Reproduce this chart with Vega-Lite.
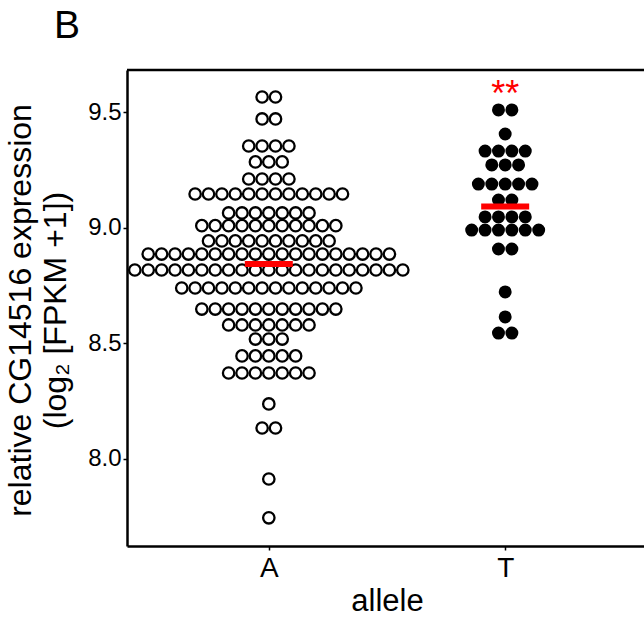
{
  "$schema": "https://vega.github.io/schema/vega-lite/v6.json",
  "width": 517,
  "height": 476,
  "autosize": {"type": "none"},
  "padding": {"left": 127, "top": 70, "right": 0, "bottom": 73},
  "config": {"font": "Liberation Sans", "view": {"stroke": null}},
  "title": {"text": "B", "anchor": "start", "frame": "group", "fontSize": 39, "fontWeight": "normal", "color": "black", "dx": -73, "offset": 23},
  "datasets": {
    "points": [
      {"allele":"A","value":9.567,"slot":-0.5},{"allele":"A","value":9.567,"slot":0.5},
      {"allele":"A","value":9.472,"slot":-0.5},{"allele":"A","value":9.472,"slot":0.5},
      {"allele":"A","value":9.355,"slot":-1.5},{"allele":"A","value":9.355,"slot":-0.5},{"allele":"A","value":9.355,"slot":0.5},{"allele":"A","value":9.355,"slot":1.5},
      {"allele":"A","value":9.286,"slot":-1},{"allele":"A","value":9.286,"slot":0},{"allele":"A","value":9.286,"slot":1},
      {"allele":"A","value":9.212,"slot":-1.5},{"allele":"A","value":9.212,"slot":-0.5},{"allele":"A","value":9.212,"slot":0.5},{"allele":"A","value":9.212,"slot":1.5},
      {"allele":"A","value":9.147,"slot":-5.5},{"allele":"A","value":9.147,"slot":-4.5},{"allele":"A","value":9.147,"slot":-3.5},{"allele":"A","value":9.147,"slot":-2.5},{"allele":"A","value":9.147,"slot":-1.5},{"allele":"A","value":9.147,"slot":-0.5},{"allele":"A","value":9.147,"slot":0.5},{"allele":"A","value":9.147,"slot":1.5},{"allele":"A","value":9.147,"slot":2.5},{"allele":"A","value":9.147,"slot":3.5},{"allele":"A","value":9.147,"slot":4.5},{"allele":"A","value":9.147,"slot":5.5},
      {"allele":"A","value":9.065,"slot":-3},{"allele":"A","value":9.065,"slot":-2},{"allele":"A","value":9.065,"slot":-1},{"allele":"A","value":9.065,"slot":0},{"allele":"A","value":9.065,"slot":1},{"allele":"A","value":9.065,"slot":2},{"allele":"A","value":9.065,"slot":3},
      {"allele":"A","value":9.01,"slot":-5},{"allele":"A","value":9.01,"slot":-4},{"allele":"A","value":9.01,"slot":-3},{"allele":"A","value":9.01,"slot":-2},{"allele":"A","value":9.01,"slot":-1},{"allele":"A","value":9.01,"slot":0},{"allele":"A","value":9.01,"slot":1},{"allele":"A","value":9.01,"slot":2},{"allele":"A","value":9.01,"slot":3},{"allele":"A","value":9.01,"slot":4},{"allele":"A","value":9.01,"slot":5},
      {"allele":"A","value":8.944,"slot":-4.5},{"allele":"A","value":8.944,"slot":-3.5},{"allele":"A","value":8.944,"slot":-2.5},{"allele":"A","value":8.944,"slot":-1.5},{"allele":"A","value":8.944,"slot":-0.5},{"allele":"A","value":8.944,"slot":0.5},{"allele":"A","value":8.944,"slot":1.5},{"allele":"A","value":8.944,"slot":2.5},{"allele":"A","value":8.944,"slot":3.5},{"allele":"A","value":8.944,"slot":4.5},
      {"allele":"A","value":8.887,"slot":-9},{"allele":"A","value":8.887,"slot":-8},{"allele":"A","value":8.887,"slot":-7},{"allele":"A","value":8.887,"slot":-6},{"allele":"A","value":8.887,"slot":-5},{"allele":"A","value":8.887,"slot":-4},{"allele":"A","value":8.887,"slot":-3},{"allele":"A","value":8.887,"slot":-2},{"allele":"A","value":8.887,"slot":-1},{"allele":"A","value":8.887,"slot":0},{"allele":"A","value":8.887,"slot":1},{"allele":"A","value":8.887,"slot":2},{"allele":"A","value":8.887,"slot":3},{"allele":"A","value":8.887,"slot":4},{"allele":"A","value":8.887,"slot":5},{"allele":"A","value":8.887,"slot":6},{"allele":"A","value":8.887,"slot":7},{"allele":"A","value":8.887,"slot":8},{"allele":"A","value":8.887,"slot":9},
      {"allele":"A","value":8.818,"slot":-10},{"allele":"A","value":8.818,"slot":-9},{"allele":"A","value":8.818,"slot":-8},{"allele":"A","value":8.818,"slot":-7},{"allele":"A","value":8.818,"slot":-6},{"allele":"A","value":8.818,"slot":-5},{"allele":"A","value":8.818,"slot":-4},{"allele":"A","value":8.818,"slot":-3},{"allele":"A","value":8.818,"slot":-2},{"allele":"A","value":8.818,"slot":-1},{"allele":"A","value":8.818,"slot":0},{"allele":"A","value":8.818,"slot":1},{"allele":"A","value":8.818,"slot":2},{"allele":"A","value":8.818,"slot":3},{"allele":"A","value":8.818,"slot":4},{"allele":"A","value":8.818,"slot":5},{"allele":"A","value":8.818,"slot":6},{"allele":"A","value":8.818,"slot":7},{"allele":"A","value":8.818,"slot":8},{"allele":"A","value":8.818,"slot":9},{"allele":"A","value":8.818,"slot":10},
      {"allele":"A","value":8.74,"slot":-6.5},{"allele":"A","value":8.74,"slot":-5.5},{"allele":"A","value":8.74,"slot":-4.5},{"allele":"A","value":8.74,"slot":-3.5},{"allele":"A","value":8.74,"slot":-2.5},{"allele":"A","value":8.74,"slot":-1.5},{"allele":"A","value":8.74,"slot":-0.5},{"allele":"A","value":8.74,"slot":0.5},{"allele":"A","value":8.74,"slot":1.5},{"allele":"A","value":8.74,"slot":2.5},{"allele":"A","value":8.74,"slot":3.5},{"allele":"A","value":8.74,"slot":4.5},{"allele":"A","value":8.74,"slot":5.5},{"allele":"A","value":8.74,"slot":6.5},
      {"allele":"A","value":8.649,"slot":-5},{"allele":"A","value":8.649,"slot":-4},{"allele":"A","value":8.649,"slot":-3},{"allele":"A","value":8.649,"slot":-2},{"allele":"A","value":8.649,"slot":-1},{"allele":"A","value":8.649,"slot":0},{"allele":"A","value":8.649,"slot":1},{"allele":"A","value":8.649,"slot":2},{"allele":"A","value":8.649,"slot":3},{"allele":"A","value":8.649,"slot":4},{"allele":"A","value":8.649,"slot":5},
      {"allele":"A","value":8.58,"slot":-3},{"allele":"A","value":8.58,"slot":-2},{"allele":"A","value":8.58,"slot":-1},{"allele":"A","value":8.58,"slot":0},{"allele":"A","value":8.58,"slot":1},{"allele":"A","value":8.58,"slot":2},{"allele":"A","value":8.58,"slot":3},
      {"allele":"A","value":8.519,"slot":-1},{"allele":"A","value":8.519,"slot":0},{"allele":"A","value":8.519,"slot":1},
      {"allele":"A","value":8.446,"slot":-2},{"allele":"A","value":8.446,"slot":-1},{"allele":"A","value":8.446,"slot":0},{"allele":"A","value":8.446,"slot":1},{"allele":"A","value":8.446,"slot":2},
      {"allele":"A","value":8.372,"slot":-3},{"allele":"A","value":8.372,"slot":-2},{"allele":"A","value":8.372,"slot":-1},{"allele":"A","value":8.372,"slot":0},{"allele":"A","value":8.372,"slot":1},{"allele":"A","value":8.372,"slot":2},{"allele":"A","value":8.372,"slot":3},
      {"allele":"A","value":8.238,"slot":0},
      {"allele":"A","value":8.134,"slot":-0.5},{"allele":"A","value":8.134,"slot":0.5},
      {"allele":"A","value":7.913,"slot":0},
      {"allele":"A","value":7.745,"slot":0},
      {"allele":"T","value":9.511,"slot":-0.5},{"allele":"T","value":9.511,"slot":0.5},
      {"allele":"T","value":9.407,"slot":0},
      {"allele":"T","value":9.333,"slot":-1.5},{"allele":"T","value":9.333,"slot":-0.5},{"allele":"T","value":9.333,"slot":0.5},{"allele":"T","value":9.333,"slot":1.5},
      {"allele":"T","value":9.273,"slot":-1},{"allele":"T","value":9.273,"slot":0},{"allele":"T","value":9.273,"slot":1},
      {"allele":"T","value":9.19,"slot":-2},{"allele":"T","value":9.19,"slot":-1},{"allele":"T","value":9.19,"slot":0},{"allele":"T","value":9.19,"slot":1},{"allele":"T","value":9.19,"slot":2},
      {"allele":"T","value":9.121,"slot":-0.5},{"allele":"T","value":9.121,"slot":0.5},
      {"allele":"T","value":9.048,"slot":-1.5},{"allele":"T","value":9.048,"slot":-0.5},{"allele":"T","value":9.048,"slot":0.5},{"allele":"T","value":9.048,"slot":1.5},
      {"allele":"T","value":8.991,"slot":-2.5},{"allele":"T","value":8.991,"slot":-1.5},{"allele":"T","value":8.991,"slot":-0.5},{"allele":"T","value":8.991,"slot":0.5},{"allele":"T","value":8.991,"slot":1.5},{"allele":"T","value":8.991,"slot":2.5},
      {"allele":"T","value":8.909,"slot":-0.5},{"allele":"T","value":8.909,"slot":0.5},
      {"allele":"T","value":8.723,"slot":0},
      {"allele":"T","value":8.615,"slot":0},
      {"allele":"T","value":8.545,"slot":-0.5},{"allele":"T","value":8.545,"slot":0.5}
    ],
    "medians": [
      {"allele":"A","value":8.844},
      {"allele":"T","value":9.093}
    ],
    "stars": [
      {"allele":"T","value":9.53,"label":"**"}
    ]
  },
  "layer": [
    {
      "data": {"name": "points"},
      "transform": [{"filter": "datum.allele === 'A'"}],
      "mark": {"type": "point", "shape": "circle", "filled": false, "stroke": "black", "strokeWidth": 2.3, "size": 130, "opacity": 1},
      "encoding": {
        "x": {
          "field": "allele", "type": "nominal",
          "scale": {"type": "point", "domain": ["A", "T"], "range": [0, 520], "padding": 0.6},
          "axis": {"title": "allele", "labelAngle": 0, "domainColor": "black", "domainWidth": 2.5, "tickColor": "black", "tickSize": 4, "tickWidth": 1.5, "labelFontSize": 28, "labelColor": "black", "labelPadding": 4, "titleFontSize": 31, "titleFontWeight": "normal", "titleColor": "black", "titlePadding": 4}
        },
        "y": {
          "field": "value", "type": "quantitative",
          "scale": {"domain": [7.623, 9.684], "nice": false, "zero": false},
          "axis": {"title": ["relative CG14516 expression", "(log₂ [FPKM +1])"], "values": [8, 8.5, 9, 9.5], "format": ".1f", "grid": false, "domainColor": "black", "domainWidth": 2.5, "tickColor": "black", "tickSize": 4, "tickWidth": 1.5, "labelFontSize": 24, "labelColor": "black", "labelPadding": 2, "titleFontSize": 32, "titleFontWeight": "normal", "titleColor": "black", "titleX": -107, "titleY": 240, "titleBaseline": "middle", "titleLineHeight": 35}
        },
        "xOffset": {"field": "slot", "type": "quantitative", "scale": {"domain": [-10, 10], "range": [-134, 134]}}
      }
    },
    {
      "data": {"name": "points"},
      "transform": [{"filter": "datum.allele === 'T'"}],
      "mark": {"type": "circle", "color": "black", "size": 168, "opacity": 1},
      "encoding": {
        "x": {"field": "allele", "type": "nominal"},
        "y": {"field": "value", "type": "quantitative"},
        "xOffset": {"field": "slot", "type": "quantitative", "scale": {"domain": [-10, 10], "range": [-134, 134]}}
      }
    },
    {
      "data": {"name": "medians"},
      "mark": {"type": "tick", "color": "#ff0000", "size": 48, "thickness": 6, "opacity": 1, "orient": "horizontal"},
      "encoding": {
        "x": {"field": "allele", "type": "nominal"},
        "y": {"field": "value", "type": "quantitative"}
      }
    },
    {
      "data": {"name": "stars"},
      "mark": {"type": "text", "color": "#ff0000", "fontSize": 36, "baseline": "alphabetic", "align": "center"},
      "encoding": {
        "x": {"field": "allele", "type": "nominal"},
        "y": {"field": "value", "type": "quantitative"},
        "text": {"field": "label"}
      }
    },
    {
      "data": {"values": [{}]},
      "mark": {"type": "rule", "color": "black", "strokeWidth": 2.5},
      "encoding": {"y": {"datum": 9.684}}
    }
  ]
}
